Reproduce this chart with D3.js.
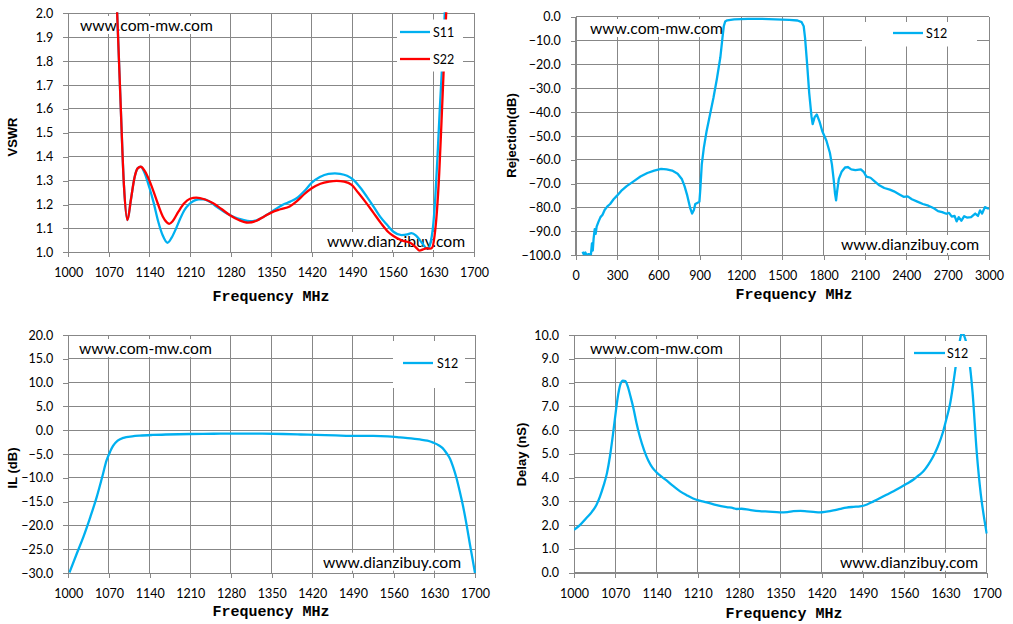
<!DOCTYPE html>
<html><head><meta charset="utf-8">
<script src="https://cdn.jsdelivr.net/npm/d3@7/dist/d3.min.js"></script>
<style>body{margin:0;background:#fff}</style>
</head><body>
<svg id="c" width="1013" height="624" xmlns="http://www.w3.org/2000/svg"></svg>
<script>
// ---------------- DATA ----------------
const vswrTicksX = [1000,1070,1140,1210,1280,1350,1420,1490,1560,1630,1700];
const vswrTicksY = [1.0,1.1,1.2,1.3,1.4,1.5,1.6,1.7,1.8,1.9,2.0];
const s11Freq = [1084,1090,1096,1102,1108,1114,1120,1125,1132,1140,1147,1155,1163,1171,1178,1186,1193,1200,1208,1216,1225,1233,1245,1256,1270,1285,1300,1313,1328,1342,1356,1371,1383,1394,1407,1420,1434,1449,1460,1469,1481,1492,1504,1515,1527,1538,1550,1561,1575,1585,1592,1600,1607,1613,1618,1622,1625,1629,1633,1637,1641,1645,1649,1652];
const s11Vals = [2.02,1.64,1.28,1.135,1.22,1.31,1.352,1.358,1.33,1.27,1.21,1.13,1.07,1.04,1.06,1.10,1.14,1.175,1.20,1.215,1.222,1.222,1.21,1.19,1.168,1.149,1.137,1.130,1.137,1.156,1.178,1.200,1.212,1.226,1.255,1.291,1.315,1.328,1.330,1.328,1.320,1.303,1.27,1.233,1.19,1.149,1.115,1.086,1.072,1.075,1.08,1.07,1.05,1.03,1.017,1.02,1.04,1.10,1.22,1.40,1.60,1.78,1.97,2.15];
const s22Freq = [1084,1090,1096,1102,1108,1114,1120,1125,1132,1140,1147,1155,1163,1170,1174,1180,1190,1200,1210,1221,1235,1250,1265,1279,1295,1310,1325,1338,1351,1366,1382,1395,1408,1420,1435,1450,1463,1476,1489,1500,1513,1526,1540,1552,1561,1575,1590,1600,1606,1612,1618,1624,1628,1632,1636,1640,1644,1648,1652,1655];
const s22Vals = [2.02,1.64,1.28,1.135,1.22,1.31,1.352,1.358,1.34,1.30,1.255,1.20,1.15,1.125,1.119,1.13,1.17,1.205,1.224,1.229,1.222,1.205,1.18,1.155,1.134,1.124,1.132,1.150,1.167,1.180,1.192,1.215,1.245,1.268,1.287,1.296,1.299,1.296,1.282,1.25,1.21,1.167,1.12,1.085,1.068,1.05,1.04,1.02,1.007,1.012,1.017,1.015,1.02,1.07,1.17,1.33,1.55,1.78,2.0,2.15];

const rejTicksX = [0,300,600,900,1200,1500,1800,2100,2400,2700,3000];
const rejTicksY = [-100,-90,-80,-70,-60,-50,-40,-30,-20,-10,0];
const rejFreq = [50,60,70,80,95,110,118,124,130,138,145,152,165,180,195,210,230,250,275,300,330,370,420,470,520,570,620,660,700,740,770,790,810,830,845,858,868,885,898,905,915,930,950,975,1000,1025,1050,1065,1075,1085,1100,1150,1250,1350,1450,1550,1610,1640,1655,1665,1680,1695,1712,1720,1735,1750,1770,1790,1820,1845,1860,1872,1882,1890,1898,1910,1930,1955,1975,2000,2030,2070,2090,2110,2140,2170,2200,2240,2280,2310,2350,2380,2410,2440,2480,2520,2560,2600,2630,2660,2690,2710,2730,2750,2765,2780,2800,2820,2840,2870,2900,2920,2935,2950,2970,2985,3000];
const rejVals = [-98.5,-99.8,-98.8,-100,-99.5,-100,-95,-98,-93,-89,-91,-88,-86,-84,-83,-81,-79.5,-78.5,-76.5,-75,-73,-71,-69,-67,-65.5,-64.5,-63.8,-64,-64.5,-65.8,-68,-71,-75,-80,-82.5,-81,-78.5,-78,-77.5,-72,-62,-55,-48,-41,-34,-26,-17,-9,-4,-2,-1.5,-1.1,-0.9,-0.9,-1.1,-1.3,-1.6,-2.3,-4,-9,-20,-32,-42,-45,-42,-41,-44,-48,-52,-57,-62,-68,-74,-77,-73,-68,-65,-63.2,-63,-64,-64.3,-64,-65,-67,-67.5,-69,-70.5,-71.8,-72.5,-73.2,-74.5,-75.5,-75.3,-76.5,-77.5,-78.5,-79.2,-80.3,-81.5,-81.9,-82.6,-82.2,-83.8,-83.5,-85.8,-84,-85.5,-83.6,-84.2,-84,-82.5,-83.5,-81.2,-82.5,-79.8,-80.2,-80.5];

const ilTicksX = [1000,1070,1140,1210,1280,1350,1420,1490,1560,1630,1700];
const ilTicksY = [-30,-25,-20,-15,-10,-5,0,5,10,15,20];
const ilFreq = [1002,1015,1026,1038,1049,1058,1066,1072,1077,1085,1095,1110,1123,1145,1169,1210,1250,1284,1330,1370,1400,1427,1460,1485,1525,1550,1571,1590,1605,1618,1628,1638,1646,1652,1657,1662,1668,1674,1680,1686,1691,1696,1700];
const ilVals = [-29.9,-25.8,-22.4,-18.2,-14,-10,-6.3,-4.5,-3.3,-2.2,-1.6,-1.3,-1.15,-1.0,-0.9,-0.8,-0.75,-0.7,-0.72,-0.8,-0.9,-1.0,-1.1,-1.2,-1.2,-1.3,-1.5,-1.7,-1.95,-2.2,-2.6,-3.2,-4.0,-5.0,-6.0,-7.6,-10,-13,-16.3,-20.2,-23.8,-27.2,-30];

const dlyTicksX = [1000,1070,1140,1210,1280,1350,1420,1490,1560,1630,1700];
const dlyTicksY = [0,1,2,3,4,5,6,7,8,9,10];
const dlyFreq = [1000,1010,1021,1030,1038,1044,1050,1056,1061,1066,1071,1075,1079,1083,1087,1091,1096,1101,1106,1112,1119,1126,1133,1140,1148,1157,1168,1180,1191,1202,1213,1225,1242,1259,1270,1276,1284,1298,1315,1330,1349,1362,1372,1384,1395,1406,1417,1428,1440,1452,1462,1474,1485,1497,1508,1520,1530,1542,1553,1565,1576,1585,1593,1601,1609,1617,1626,1632,1638,1643,1649,1654,1658,1662,1666,1670,1676,1683,1690,1695,1700];
const dlyVals = [1.8,2.0,2.3,2.55,2.85,3.2,3.65,4.2,4.9,5.8,6.8,7.5,7.95,8.08,8.06,7.85,7.4,6.9,6.3,5.7,5.15,4.72,4.42,4.22,4.05,3.88,3.65,3.42,3.26,3.12,3.03,2.96,2.84,2.76,2.72,2.68,2.69,2.64,2.59,2.57,2.54,2.55,2.59,2.6,2.58,2.56,2.54,2.57,2.62,2.69,2.74,2.77,2.79,2.87,3.0,3.15,3.28,3.43,3.58,3.75,3.92,4.1,4.28,4.55,4.88,5.3,5.93,6.5,7.12,7.9,8.95,9.7,10.1,9.95,9.6,9.0,7.6,5.1,3.3,2.4,1.65];

const seriesNames = {s11:"S11", s22:"S22", s12:"S12"};
const watermarks = ["www.com-mw.com", "www.dianzibuy.com"];

// ---------------- STYLE ----------------
const BLUE = "#00B0F0", RED = "#FF0000", GRID = "#878787";
const SANS = "Lato, 'Open Sans', sans-serif";
const svg = d3.select("#c");
svg.append("rect").attr("width",1013).attr("height",624).attr("fill","#fff");

// watermark font size fitted once
const probe = svg.append("text").attr("font-family",SANS).attr("font-size",15).text(watermarks[0]);
const wmSize = 15 * 133 / probe.node().getComputedTextLength();
probe.remove();

let clipId = 0;
function panel(p){
  const x = d3.scaleLinear().domain(p.xDomain).range([p.l, p.r]);
  const y = d3.scaleLinear().domain(p.yDomain).range([p.b, p.t]);
  const g = svg.append("g");

  // grid
  g.append("g").selectAll("line").data(p.xTicks).join("line")
    .attr("x1",d=>x(d)).attr("x2",d=>x(d)).attr("y1",p.t).attr("y2",p.b)
    .attr("stroke",GRID).attr("stroke-width",1).attr("shape-rendering","crispEdges");
  g.append("g").selectAll("line").data(p.yTicks).join("line")
    .attr("y1",d=>y(d)).attr("y2",d=>y(d)).attr("x1",p.l).attr("x2",p.r)
    .attr("stroke",GRID).attr("stroke-width",1).attr("shape-rendering","crispEdges");

  // axes
  const ax = g.append("g").attr("transform",`translate(0,${p.b})`)
    .call(d3.axisBottom(x).tickValues(p.xTicks).tickSize(5).tickPadding(11).tickFormat(d3.format("d")));
  const ay = g.append("g").attr("transform",`translate(${p.l},0)`)
    .call(d3.axisLeft(y).tickValues(p.yTicks).tickSize(5).tickPadding(10).tickFormat(d3.format(".1f")));
  [ax,ay].forEach(a=>{
    a.attr("font-family",SANS).attr("font-size",12.5);
    a.selectAll(".domain").attr("stroke",GRID).attr("shape-rendering","crispEdges");
    a.selectAll(".tick line").attr("stroke",GRID).attr("shape-rendering","crispEdges");
    a.selectAll(".tick text").attr("fill","#000");
  });

  // titles
  g.append("text").attr("x",p.xtx).attr("y",p.xty).attr("text-anchor","middle")
    .attr("font-family","'Liberation Mono', 'DejaVu Sans Mono', monospace").attr("font-weight","bold")
    .attr("font-size",15).attr("fill","#000").text("Frequency MHz");
  g.append("text").attr("transform",`translate(${p.ytx},${p.yty}) rotate(-90)`)
    .attr("text-anchor","middle").attr("dominant-baseline","central")
    .attr("font-family","'Liberation Sans', Arial, sans-serif").attr("font-weight","bold")
    .attr("font-size",13).attr("fill","#000").text(p.yTitle);

  // watermarks
  p.wm.forEach((w,i)=>{
    const t = g.append("text").attr("x",w[0]).attr("y",w[1]).attr("font-family",SANS)
      .attr("font-size",wmSize).attr("fill","#000").text(watermarks[i]);
    const bb = t.node().getBBox();
    g.insert("rect", ()=>t.node()).attr("x",bb.x-2).attr("y",bb.y).attr("width",bb.width+4).attr("height",bb.height).attr("fill","#fff");
  });

  // curves
  const id = "clip"+(clipId++);
  svg.append("clipPath").attr("id",id).append("rect")
    .attr("x",p.l).attr("y",p.t-1).attr("width",p.r-p.l+1).attr("height",p.b-p.t+1);
  const cg = g.append("g").attr("clip-path",`url(#${id})`);
  p.series.forEach(s=>{
    const pts = s.f.map((f,i)=>[f,s.v[i]]);
    const line = d3.line().x(d=>x(d[0])).y(d=>y(d[1])).curve(s.curve || d3.curveMonotoneX);
    cg.append("path").attr("d",line(pts)).attr("fill","none").attr("stroke",s.color)
      .attr("stroke-width",2.3).attr("stroke-linejoin","round");
  });

  // legend (on top of curves)
  const lg = g.append("g");
  lg.append("rect").attr("x",p.legend.x).attr("y",p.legend.y).attr("width",p.legend.w).attr("height",p.legend.h).attr("fill","#fff");
  p.series.forEach((s,i)=>{
    const ly = p.legend.items[i];
    lg.append("line").attr("x1",p.legend.lx1).attr("x2",p.legend.lx2).attr("y1",ly).attr("y2",ly)
      .attr("stroke",s.color).attr("stroke-width",2.3);
    lg.append("text").attr("x",p.legend.tx).attr("y",ly).attr("dominant-baseline","central")
      .attr("font-family",SANS).attr("font-size",12.5).attr("fill","#000").text(s.name);
  });
}

// top-left VSWR
panel({l:68.3,r:474,t:13.3,b:252.3, xDomain:[1000,1700], yDomain:[1.0,2.0],
  xTicks:vswrTicksX, yTicks:vswrTicksY, yTitle:"VSWR", xtx:271, xty:301, ytx:12, yty:137,
  legend:{x:397,y:19.5,w:66,h:52, lx1:400, lx2:430, tx:433, items:[32,59]},
  wm:[[80,31],[327,247]],
  series:[{name:seriesNames.s11,f:s11Freq,v:s11Vals,color:BLUE},{name:seriesNames.s22,f:s22Freq,v:s22Vals,color:RED}]});

// top-right Rejection
panel({l:575.7,r:989,t:16.7,b:255.3, xDomain:[0,3000], yDomain:[-100,0],
  xTicks:rejTicksX, yTicks:rejTicksY, yTitle:"Rejection(dB)", xtx:794, xty:299, ytx:511, yty:135.5,
  legend:{x:862,y:22,w:115,h:24.5, lx1:893, lx2:923, tx:926, items:[33]},
  wm:[[590,34],[841,250]],
  series:[{name:seriesNames.s12,f:rejFreq,v:rejVals,color:BLUE,curve:d3.curveLinear}]});

// bottom-left IL
panel({l:68.3,r:475,t:335,b:573, xDomain:[1000,1700], yDomain:[-30,20],
  xTicks:ilTicksX, yTicks:ilTicksY, yTitle:"IL (dB)", xtx:271, xty:616, ytx:12.5, yty:468,
  legend:{x:393,y:341,w:72,h:47, lx1:403, lx2:433, tx:437, items:[363]},
  wm:[[79,354],[323,567.7]],
  series:[{name:seriesNames.s12,f:ilFreq,v:ilVals,color:BLUE}]});

// bottom-right Delay
panel({l:574,r:986.7,t:335,b:572.7, xDomain:[1000,1700], yDomain:[0,10],
  xTicks:dlyTicksX, yTicks:dlyTicksY, yTitle:"Delay (nS)", xtx:784, xty:618, ytx:521, yty:454.5,
  legend:{x:905,y:341,w:75,h:26, lx1:914, lx2:945, tx:947, items:[353]},
  wm:[[590,354],[840,567.7]],
  series:[{name:seriesNames.s12,f:dlyFreq,v:dlyVals,color:BLUE}]});
</script>
</body></html>
